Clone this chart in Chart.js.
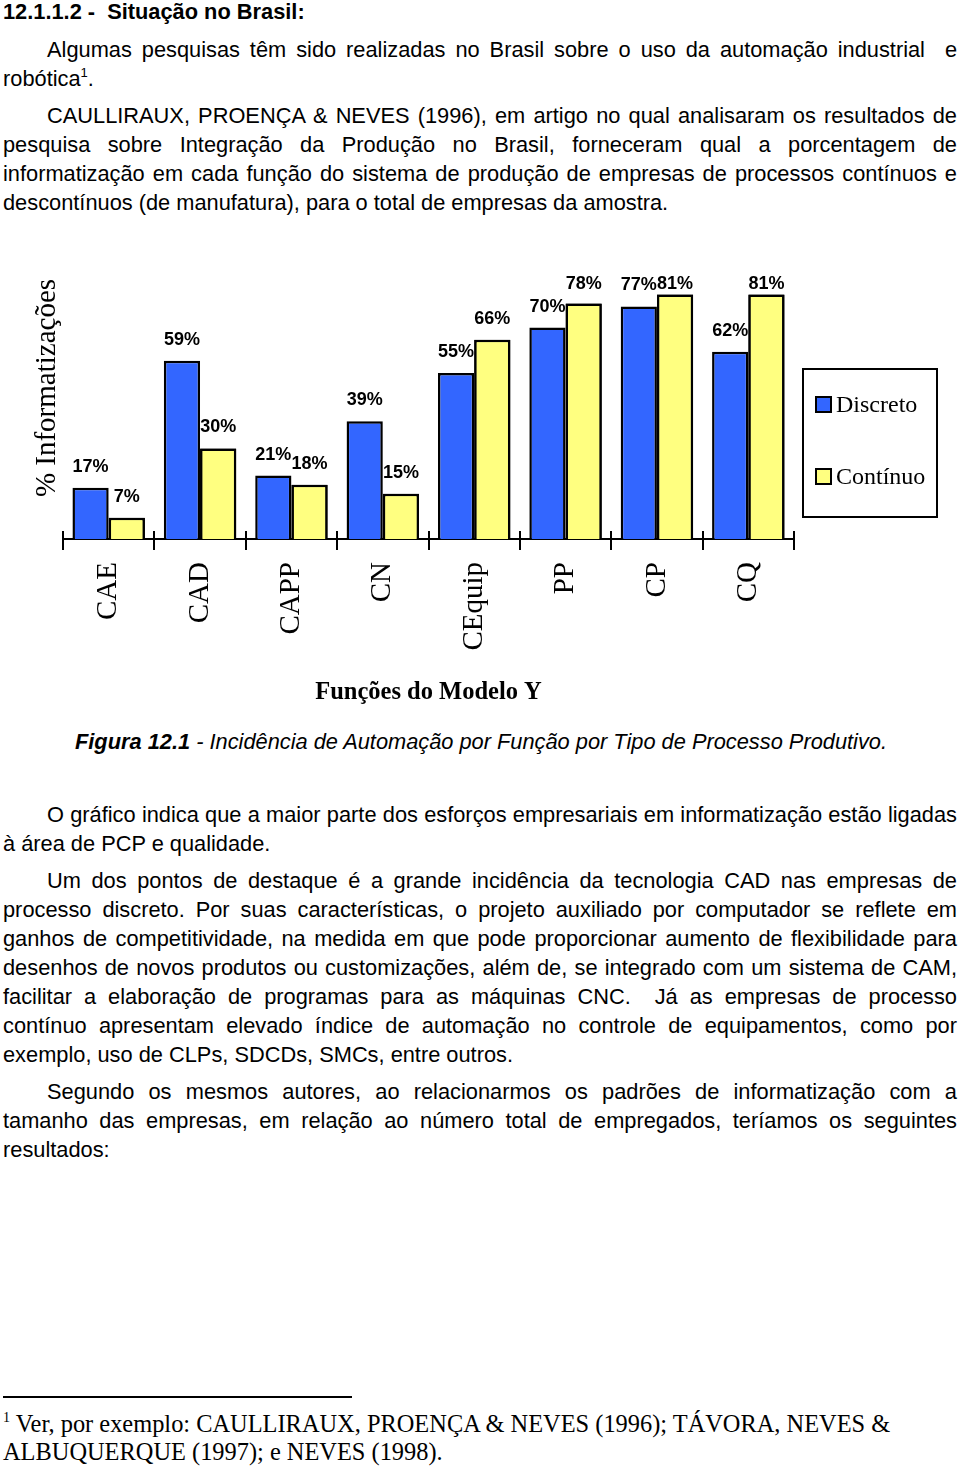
<!DOCTYPE html>
<html lang="pt"><head><meta charset="utf-8">
<script src="https://cdn.jsdelivr.net/npm/chart.js@4.4.0/dist/chart.umd.min.js"></script>
<style>
html,body{margin:0;padding:0;background:#fff;}
body{width:960px;height:1468px;position:relative;overflow:hidden;font-family:"Liberation Sans",Arial,Helvetica,sans-serif;color:#000;}
.blk{position:absolute;left:3px;width:954px;font-size:21.8px;line-height:29px;}
.ln{display:block;white-space:pre;height:29px;}
.ind{padding-left:44px;}
sup{font-size:13px;line-height:0;vertical-align:9px;}
#head{position:absolute;left:3px;top:-3px;font-weight:bold;font-size:21.8px;line-height:29px;white-space:pre;}
#cap{position:absolute;left:75px;top:727px;font-style:italic;font-size:21.8px;line-height:29px;white-space:pre;}
#rule{position:absolute;left:3px;top:1396px;width:349px;height:2px;background:#000;}
#foot{position:absolute;left:3px;top:1410px;font-family:"Liberation Serif","Times New Roman",serif;font-size:24.4px;line-height:28px;white-space:pre;}
#foot sup{font-size:14px;vertical-align:10px;}
#wrap{position:absolute;left:0;top:230px;width:960px;height:490px;}
</style></head>
<body>
<div id="head">12.1.1.2 -  Situação no Brasil:</div>

<div class="blk" style="top:35px">
<div class="ln ind j"><span>Algumas pesquisas têm sido realizadas no Brasil sobre o uso da automação industrial  e</span></div>
<div class="ln"><span>robótica<sup>1</sup>.</span></div>
</div>

<div class="blk" style="top:101px">
<div class="ln ind j"><span>CAULLIRAUX, PROENÇA &amp; NEVES (1996), em artigo no qual analisaram os resultados de</span></div>
<div class="ln j"><span>pesquisa sobre Integração da Produção no Brasil, forneceram qual a porcentagem de</span></div>
<div class="ln j"><span>informatização em cada função do sistema de produção de empresas de processos contínuos e</span></div>
<div class="ln"><span>descontínuos (de manufatura), para o total de empresas da amostra.</span></div>
</div>

<div id="wrap"><canvas id="c" width="960" height="490"></canvas></div>

<div id="cap"><b>Figura 12.1</b> - Incidência de Automação por Função por Tipo de Processo Produtivo.</div>

<div class="blk" style="top:800px">
<div class="ln ind j"><span>O gráfico indica que a maior parte dos esforços empresariais em informatização estão ligadas</span></div>
<div class="ln"><span>à área de PCP e qualidade.</span></div>
</div>

<div class="blk" style="top:866px">
<div class="ln ind j"><span>Um dos pontos de destaque é a grande incidência da tecnologia CAD nas empresas de</span></div>
<div class="ln j"><span>processo discreto. Por suas características, o projeto auxiliado por computador se reflete em</span></div>
<div class="ln j"><span>ganhos de competitividade, na medida em que pode proporcionar aumento de flexibilidade para</span></div>
<div class="ln j"><span>desenhos de novos produtos ou customizações, além de, se integrado com um sistema de CAM,</span></div>
<div class="ln j"><span>facilitar a elaboração de programas para as máquinas CNC.  Já as empresas de processo</span></div>
<div class="ln j"><span>contínuo apresentam elevado índice de automação no controle de equipamentos, como por</span></div>
<div class="ln"><span>exemplo, uso de CLPs, SDCDs, SMCs, entre outros.</span></div>
</div>

<div class="blk" style="top:1077px">
<div class="ln ind j"><span>Segundo os mesmos autores, ao relacionarmos os padrões de informatização com a</span></div>
<div class="ln j"><span>tamanho das empresas, em relação ao número total de empregados, teríamos os seguintes</span></div>
<div class="ln"><span>resultados:</span></div>
</div>

<div id="rule"></div>
<div id="foot"><sup>1</sup> Ver, por exemplo: CAULLIRAUX, PROENÇA &amp; NEVES (1996); TÁVORA, NEVES &amp;
ALBUQUERQUE (1997); e NEVES (1998).</div>

<script>
// ---- data ----
const categories = ['CAE', 'CAD', 'CAPP', 'CN', 'CEquip', 'PP', 'CP', 'CQ'];
const discreto = [17, 59, 21, 39, 55, 70, 77, 62];
const continuo = [7, 30, 18, 15, 66, 78, 81, 81];
const seriesNames = ['Discreto', 'Contínuo'];
const yTitle = '% Informatizações';
const xTitle = 'Funções do Modelo Y';

// ---- justify lines ----
document.querySelectorAll('.j').forEach(el => {
  const span = el.firstElementChild;
  const pl = parseFloat(getComputedStyle(el).paddingLeft) || 0;
  const avail = el.clientWidth - pl;
  const nat = span.getBoundingClientRect().width;
  const spaces = (span.textContent.match(/ /g) || []).length;
  if (spaces) span.style.wordSpacing = ((avail - nat) / spaces) + 'px';
});

const BLUE = '#3366ff', YELLOW = '#ffff80';
const SERIF = '"Liberation Serif", "Times New Roman", serif';
const SANS = '"Liberation Sans", Arial, sans-serif';
const LABEL_TOP = 54; // labels never rise above this canvas y

const decor = {
  id: 'decor',
  afterDatasetsDraw(chart) {
    const ctx = chart.ctx;
    const area = chart.chartArea;
    const m0 = chart.getDatasetMeta(0), m1 = chart.getDatasetMeta(1);
    const drawLabels = (meta, vals) => {
      ctx.save();
      ctx.font = 'bold 18px ' + SANS;
      ctx.fillStyle = '#000';
      ctx.textAlign = 'center';
      ctx.textBaseline = 'middle';
      meta.data.forEach((el, i) => ctx.fillText(vals[i] + '%', el.x, Math.max(el.y - 21, LABEL_TOP)));
      ctx.restore();
    };
    drawLabels(m0, chart.data.datasets[0].data);
    m1.data.forEach(el => el.draw(ctx, area));
    drawLabels(m1, chart.data.datasets[1].data);
  },
  afterDraw(chart) {
    const ctx = chart.ctx;
    const area = chart.chartArea;
    const xs = chart.scales.x;
    const n = chart.data.labels.length;
    ctx.save();
    ctx.strokeStyle = '#000';
    ctx.lineWidth = 2;
    for (let i = 0; i <= n; i++) {
      const x = Math.round(xs.left + i * (xs.right - xs.left) / n);
      ctx.beginPath();
      ctx.moveTo(x, area.bottom - 8);
      ctx.lineTo(x, area.bottom + 11);
      ctx.stroke();
    }
    ctx.restore();
    // y title
    ctx.save();
    ctx.translate(55, (area.top + area.bottom) / 2);
    ctx.rotate(-Math.PI / 2);
    ctx.font = '29px ' + SERIF;
    ctx.fillStyle = '#000';
    ctx.textAlign = 'center';
    ctx.textBaseline = 'alphabetic';
    ctx.fillText(yTitle, 0, 0);
    ctx.restore();
    // legend
    ctx.save();
    ctx.strokeStyle = '#000';
    ctx.lineWidth = 2;
    ctx.fillStyle = '#fff';
    ctx.fillRect(803, 139, 134, 148);
    ctx.strokeRect(803, 139, 134, 148);
    ctx.font = '24px ' + SERIF;
    ctx.textBaseline = 'middle';
    ctx.textAlign = 'left';
    const ys = [175, 247];
    chart.data.datasets.forEach((ds, i) => {
      ctx.fillStyle = ds.backgroundColor;
      ctx.fillRect(816, ys[i] - 8, 15, 15);
      ctx.strokeRect(816, ys[i] - 8, 15, 15);
      ctx.fillStyle = '#000';
      ctx.fillText(ds.label, 836, ys[i] + 1);
    });
    ctx.restore();
  }
};

new Chart(document.getElementById('c'), {
  type: 'bar',
  data: {
    labels: categories,
    datasets: [
      { label: seriesNames[0], data: discreto, backgroundColor: BLUE, borderColor: '#000', borderWidth: 2.5 },
      { label: seriesNames[1], data: continuo, backgroundColor: YELLOW, borderColor: '#000', borderWidth: 2.5 }
    ]
  },
  options: {
    responsive: false,
    devicePixelRatio: 1,
    animation: false,
    layout: { padding: { left: 63, right: 166, top: 7, bottom: 0 } },
    categoryPercentage: 0.793,
    barPercentage: 1.0,
    plugins: { legend: { display: false }, tooltip: { enabled: false } },
    scales: {
      x: {
        grid: { display: false, drawTicks: false },
        border: { display: true, color: '#000', width: 2 },
        ticks: {
          autoSkip: false, minRotation: 90, maxRotation: 90, padding: 23,
          color: '#000', font: { family: SERIF, size: 29 }
        },
        title: {
          display: true, text: xTitle, color: '#000',
          font: { family: SERIF, size: 24.5, weight: 'bold' },
          padding: { top: 0, bottom: 13 }
        },
        afterFit(scale) { scale.height = 181; }
      },
      y: { display: false, min: 0, max: 100 }
    }
  },
  plugins: [decor]
});
</script>
</body></html>
